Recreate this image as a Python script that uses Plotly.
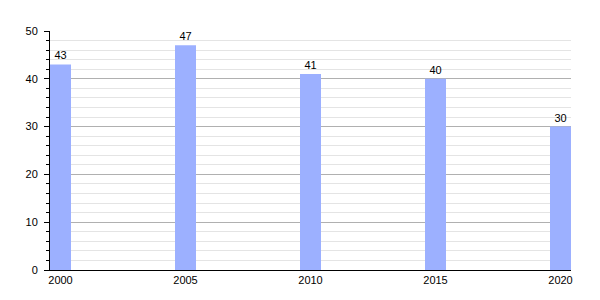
import plotly.graph_objects as go

years = ["2000", "2005", "2010", "2015", "2020"]
values = [43, 47, 41, 40, 30]

w = 0.168
fig = go.Figure(go.Bar(
    x=years, y=values, width=w,
    marker=dict(color="#9cb0ff", line=dict(width=0)),
    text=[str(v) for v in values], textposition="outside",
    textfont=dict(family="Liberation Sans, Arial, sans-serif", size=11, color="black"),
    cliponaxis=False,
))

fig.update_layout(
    width=600, height=300,
    margin=dict(l=50, r=29, t=31, b=30),
    paper_bgcolor="white", plot_bgcolor="white",
    showlegend=False,
    font=dict(family="Liberation Sans, Arial, sans-serif", size=11, color="black"),
    xaxis=dict(type="category", range=[-w/2, 4 + w/2], showline=True, linecolor="black",
               linewidth=1, ticks="", showgrid=False, tickfont=dict(size=11)),
    yaxis=dict(range=[0, 50], dtick=10, showline=True, linecolor="black", linewidth=1,
               ticks="outside", ticklen=5, tickcolor="black", tickwidth=1,
               ticklabelstandoff=4,
               showgrid=True, gridcolor="#b0b0b0", gridwidth=1, zeroline=False,
               tickfont=dict(size=11),
               minor=dict(dtick=2, ticks="outside", ticklen=3, tickcolor="black",
                          showgrid=True, gridcolor="#e4e4e4", gridwidth=1)),
)

fig.write_html("out.html")
